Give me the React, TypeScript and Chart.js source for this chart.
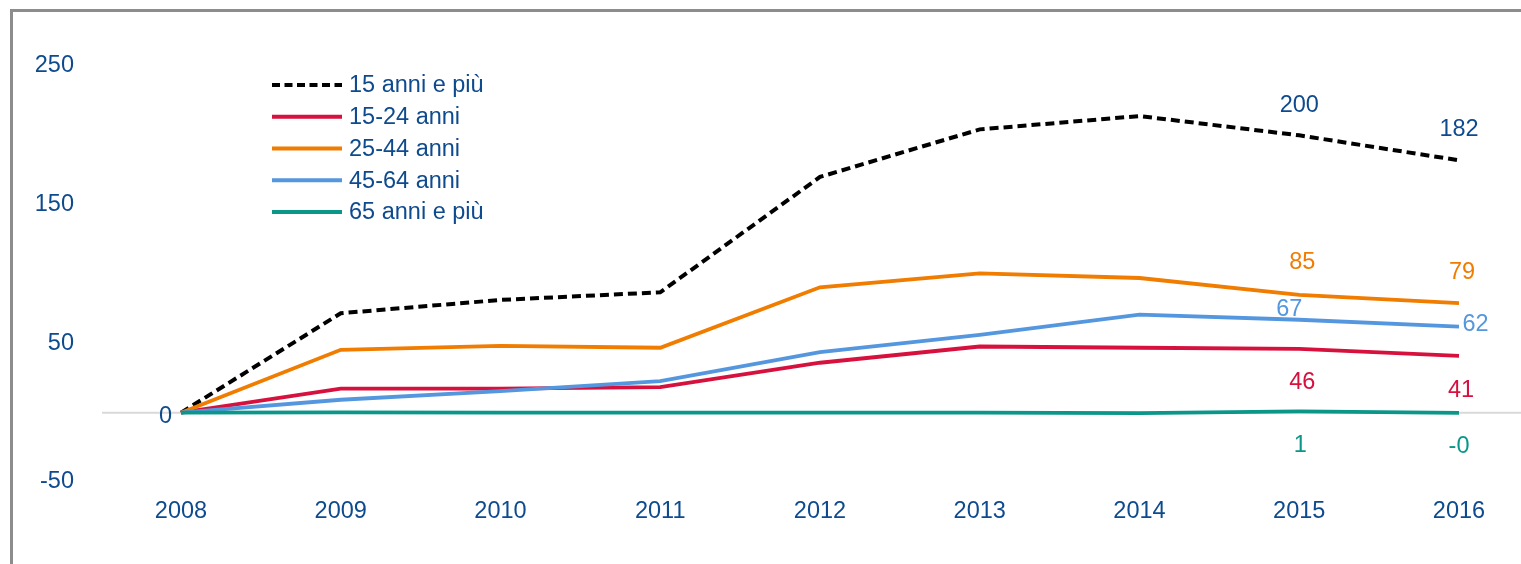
import React, { useEffect, useRef } from 'react';
import { Chart, registerables } from 'chart.js';

Chart.register(...registerables);

// ---- data ----
const years = ['2008', '2009', '2010', '2011', '2012', '2013', '2014', '2015', '2016'];
const yTickValues = [-50, 50, 150, 250];
const seriesLabels = ['15 anni e più', '15-24 anni', '25-44 anni', '45-64 anni', '65 anni e più'];
const total15plus = [0, 71.7, 81.3, 86.8, 170, 204.3, 213.9, 200, 182];
const age15to24 = [0, 17.3, 17.3, 18.4, 36, 47.7, 46.8, 46, 41];
const age25to44 = [0, 45.3, 48.2, 46.8, 90.4, 100.4, 97.1, 85, 79];
const age45to64 = [0, 9.3, 15.5, 22.7, 43.6, 56.1, 70.7, 67, 62];
const age65plus = [0, 0.2, 0, 0, 0.1, 0.1, -0.3, 1, -0.2];

// ---- styles ----
const FONT = '"Liberation Sans", Arial, sans-serif';
const FONT_SIZE = 23.5;
const TEXT_BLUE = '#0E4A8E';
const COLORS = ['#000000', '#D6113E', '#F07C00', '#5597DF', '#0A978A'];
const LABEL_COLORS = [TEXT_BLUE, '#D6113E', '#F07C00', '#5597DF', '#0A978A'];

// which point gets a value label, and where the label sits relative to the point
const valueLabels = [
  { ds: 0, i: 0, dx: -15.5, dy: 4 },
  { ds: 0, i: 7, dx: 0, dy: -30 },
  { ds: 0, i: 8, dx: 0, dy: -31 },
  { ds: 2, i: 7, dx: 3, dy: -32 },
  { ds: 2, i: 8, dx: 3, dy: -30.5 },
  { ds: 3, i: 7, dx: -10, dy: -10 },
  { ds: 3, i: 8, dx: 16.5, dy: -2.5 },
  { ds: 1, i: 7, dx: 3, dy: 34 },
  { ds: 1, i: 8, dx: 2, dy: 35 },
  { ds: 4, i: 7, dx: 1, dy: 34 },
  { ds: 4, i: 8, dx: 0, dy: 33.5 },
];

function fmt(v: number): string {
  const r = Math.round(v);
  if (r === 0 && v < 0) return '-0';
  return String(r === 0 ? 0 : r);
}

const zeroLinePlugin = {
  id: 'zeroLine',
  beforeDatasetsDraw(chart: any) {
    const { ctx, scales } = chart;
    const y = scales.y.getPixelForValue(0);
    ctx.save();
    ctx.strokeStyle = '#D9D9D9';
    ctx.lineWidth = 2;
    ctx.beginPath();
    ctx.moveTo(89, y);
    ctx.lineTo(chart.width, y);
    ctx.stroke();
    ctx.restore();
  },
};

const valueLabelPlugin = {
  id: 'valueLabels',
  afterDatasetsDraw(chart: any) {
    const { ctx } = chart;
    ctx.save();
    ctx.font = `${FONT_SIZE}px ${FONT}`;
    ctx.textAlign = 'center';
    ctx.textBaseline = 'middle';
    valueLabels.forEach((l) => {
      const meta = chart.getDatasetMeta(l.ds);
      const pt = meta.data[l.i];
      const v = chart.data.datasets[l.ds].data[l.i] as number;
      ctx.fillStyle = LABEL_COLORS[l.ds];
      ctx.fillText(fmt(v), pt.x + l.dx, pt.y + l.dy);
    });
    ctx.restore();
  },
};

const legendPlugin = {
  id: 'customLegend',
  afterDraw(chart: any) {
    const { ctx } = chart;
    const x0 = 259;
    const x1 = 329;
    const tx = 336;
    const top = 73;
    const gap = 31.75;
    ctx.save();
    ctx.font = `${FONT_SIZE}px ${FONT}`;
    ctx.textAlign = 'left';
    ctx.textBaseline = 'middle';
    chart.data.datasets.forEach((ds: any, k: number) => {
      const y = top + k * gap;
      ctx.strokeStyle = ds.borderColor;
      ctx.lineWidth = ds.borderWidth;
      ctx.lineCap = 'butt';
      ctx.setLineDash(k === 0 ? [8, 4.5] : []);
      ctx.beginPath();
      ctx.moveTo(x0, y);
      ctx.lineTo(x1, y);
      ctx.stroke();
      ctx.setLineDash([]);
      ctx.fillStyle = TEXT_BLUE;
      ctx.fillText(ds.label, tx, y + 1);
    });
    ctx.restore();
  },
};

export default function App() {
  const ref = useRef<HTMLCanvasElement | null>(null);

  useEffect(() => {
    if (!ref.current) return;
    const seriesData = [total15plus, age15to24, age25to44, age45to64, age65plus];
    const orders = [5, 4, 3, 2, 1];
    const chart = new Chart(ref.current, {
      type: 'line',
      data: {
        labels: years,
        datasets: seriesData.map((d, k) => ({
          label: seriesLabels[k],
          data: d,
          borderColor: COLORS[k],
          backgroundColor: COLORS[k],
          borderWidth: k === 0 ? 4 : 3.8,
          borderDash: k === 0 ? [9, 5] : [],
          tension: 0,
          pointRadius: 0,
          pointHoverRadius: 0,
          fill: false,
          order: orders[k],
          clip: false as any,
        })),
      },
      options: {
        responsive: false,
        animation: false,
        layout: { padding: { top: 54, right: 62, bottom: 0, left: 0 } },
        plugins: {
          legend: { display: false },
          tooltip: { enabled: false },
        },
        scales: {
          x: {
            type: 'category',
            offset: false,
            grid: { display: false, drawTicks: false },
            border: { display: false },
            ticks: {
              color: TEXT_BLUE,
              font: { family: FONT, size: FONT_SIZE },
              padding: 15,
              maxRotation: 0,
              autoSkip: false,
            },
            afterFit(scale: any) {
              scale.height = 82;
            },
          },
          y: {
            type: 'linear',
            min: -50,
            max: 250,
            grid: {
              display: true,
              drawOnChartArea: false,
              drawTicks: true,
              tickLength: 100,
              color: 'rgba(0,0,0,0)',
              tickColor: 'rgba(0,0,0,0)',
            },
            border: { display: false },
            ticks: {
              color: TEXT_BLUE,
              font: { family: FONT, size: FONT_SIZE },
              padding: 7,
            },
            afterBuildTicks(scale: any) {
              scale.ticks = yTickValues.map((v) => ({ value: v }));
            },
            afterFit(scale: any) {
              scale.width = 168;
            },
          },
        },
      },
      plugins: [zeroLinePlugin, valueLabelPlugin, legendPlugin],
    });
    return () => chart.destroy();
  }, []);

  return (
    <div
      style={{
        position: 'fixed',
        left: 10,
        top: 9,
        width: 1511,
        height: 555,
        borderLeft: '3px solid #8C8C8C',
        borderTop: '3px solid #8C8C8C',
        boxSizing: 'border-box',
        background: '#fff',
      }}
    >
      <canvas ref={ref} width={1508} height={552} style={{ display: 'block', width: 1508, height: 552 }} />
    </div>
  );
}
